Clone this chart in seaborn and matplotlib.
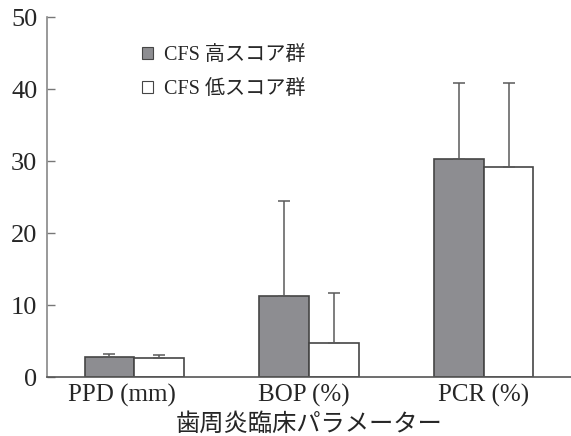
import matplotlib
matplotlib.use("Agg")
import matplotlib.pyplot as plt
import seaborn as sns
import pandas as pd
import numpy as np
from matplotlib.patches import Patch

categories = ["PPD (mm)", "BOP (%)", "PCR (%)"]
groups = ["CFS 高スコア群", "CFS 低スコア群"]
high_means = [2.8, 11.3, 30.3]
low_means = [2.7, 4.7, 29.1]
high_sd = [0.4, 13.1, 10.6]
low_sd = [0.4, 6.9, 11.8]
xlabel = "歯周炎臨床パラメーター"
yticks = [0, 10, 20, 30, 40, 50]

sns.set_style("white")
plt.rcParams['font.family'] = ['Liberation Serif', 'Noto Sans CJK JP']

df = pd.DataFrame({
    "cat": categories * 2,
    "group": [groups[0]] * 3 + [groups[1]] * 3,
    "value": high_means + low_means,
    "sd": high_sd + low_sd,
})

fig = plt.figure(figsize=(5.71, 4.36), dpi=100)
ax = fig.add_axes([47/571, 59/436, 1 - 47/571, (377-17)/436])

palette = {groups[0]: "#8d8d91", groups[1]: "#ffffff"}
sns.barplot(data=df, x="cat", y="value", hue="group", palette=palette,
            width=0.57, gap=0, errorbar=None, edgecolor="#454545",
            linewidth=1.2, ax=ax, legend=False, saturation=1)

# error bars (upper only)
bars = [p for p in ax.patches]
sds = high_sd + low_sd
vals = high_means + low_means
for p, v, s in zip(bars, vals, sds):
    xc = p.get_x() + p.get_width() / 2
    ax.errorbar(xc, v, yerr=[[0], [s]], fmt="none", ecolor="#5a5a5a",
                elinewidth=1.1, capsize=4, capthick=1.1, zorder=1)

ax.set_xlim(-0.5, 2.5)
ax.set_ylim(0, 50)
ax.set_yticks(yticks)
ax.set_yticklabels([str(t) for t in yticks], fontsize=19)
# tick labels slightly offset as in the reference layout
label_offsets = [-12 / 174.7, -5 / 174.7, 0.0]
ax.set_xticks([i + o for i, o in enumerate(label_offsets)])
ax.set_xticklabels(categories, fontsize=18)
ax.tick_params(axis="x", which="major", length=0, pad=5)
ax.set_xticks([0.5, 1.5], minor=True)
ax.tick_params(axis="x", which="minor", direction="in", length=6, width=1, color="#555555")
ax.tick_params(axis="y", direction="in", length=6, width=1, color="#777777", pad=7, left=True)
ax.set_xlabel(xlabel, fontsize=17.5, labelpad=4)
ax.set_ylabel("")

for side in ["top", "right"]:
    ax.spines[side].set_visible(False)
ax.spines["left"].set_color("#888888")
ax.spines["bottom"].set_color("#555555")
ax.spines["left"].set_linewidth(1.2)
ax.spines["bottom"].set_linewidth(1.2)

handles = [Patch(facecolor="#8d8d91", edgecolor="#454545", linewidth=0.8),
           Patch(facecolor="#ffffff", edgecolor="#454545", linewidth=0.8)]
ax.legend(handles, groups, loc="upper left", bbox_to_anchor=(0.146, 0.97),
          frameon=False, fontsize=14.5, handlelength=0.55, handleheight=0.55,
          handletextpad=0.55, labelspacing=0.75)

fig.savefig("out.png", dpi=100)
